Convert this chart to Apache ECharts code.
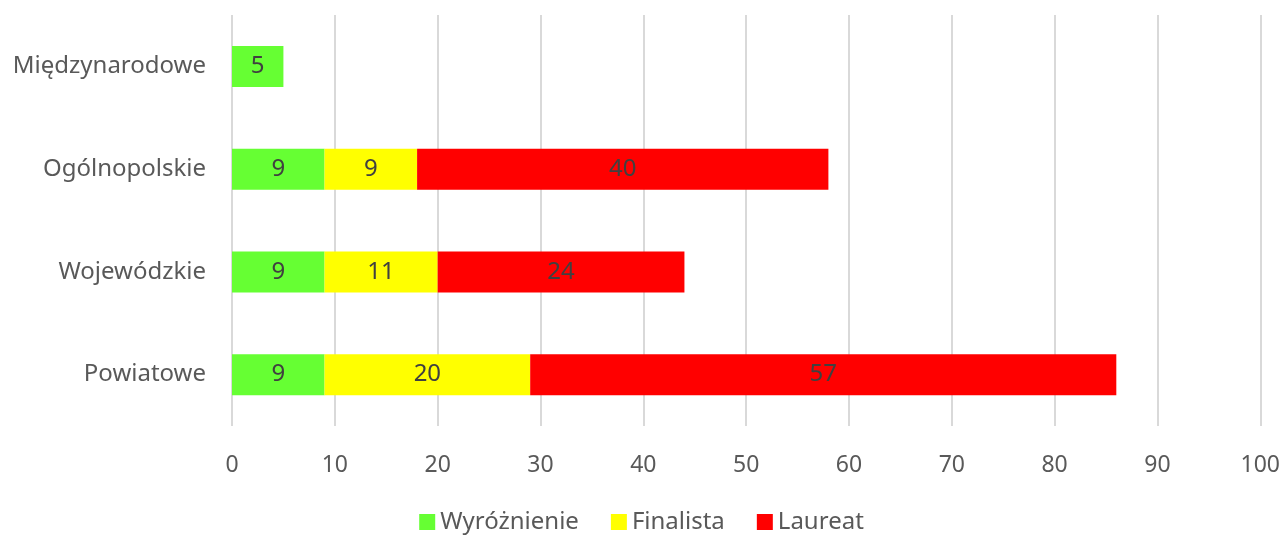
<!DOCTYPE html>
<html><head><meta charset="utf-8">
<script src="https://cdn.jsdelivr.net/npm/echarts@6/dist/echarts.min.js"></script>
<style>html,body{margin:0;padding:0;background:#fff}#c{width:1283px;height:537px}</style>
</head><body><div id="c"></div>
<script>
const categories = ['Powiatowe', 'Wojewódzkie', 'Ogólnopolskie', 'Międzynarodowe'];
const wyroznienie = [9, 9, 9, 5];
const finalista = [20, 11, 9, null];
const laureat = [57, 24, 40, null];
const xTicks = [0, 10, 20, 30, 40, 50, 60, 70, 80, 90, 100];

const FONT = '"Noto Sans", "Open Sans", sans-serif';
const chart = echarts.init(document.getElementById('c'));
const lbl = {show: true, position: 'inside', color: '#404040', fontSize: 24, fontFamily: FONT,
  formatter: p => (p.value == null || p.value === 0) ? '' : p.value};
function mk(name, data, color) {
  return {name, type: 'bar', stack: 't', data, barWidth: 41,
    itemStyle: {color}, label: lbl, emphasis: {disabled: true}};
}
chart.setOption({
  animation: false,
  textStyle: {fontFamily: FONT},
  grid: {left: 232, right: 21, top: 15, bottom: 111, containLabel: false},
  legend: {bottom: -2, left: 'center', itemWidth: 16, itemHeight: 16, itemGap: 32,
    icon: 'rect', textStyle: {color: '#595959', fontSize: 24, fontFamily: FONT},
    data: ['Wyróżnienie', 'Finalista', 'Laureat']},
  xAxis: {type: 'value', min: xTicks[0], max: xTicks[xTicks.length - 1], interval: 10,
    axisLine: {show: false}, axisTick: {show: false},
    splitLine: {lineStyle: {color: '#d9d9d9', width: 2}},
    axisLabel: {color: '#595959', fontSize: 23, margin: 28, fontFamily: FONT}},
  yAxis: {type: 'category', data: categories,
    axisLine: {show: false}, axisTick: {show: false},
    axisLabel: {color: '#595959', fontSize: 24, margin: 26, fontFamily: FONT}},
  series: [
    mk('Wyróżnienie', wyroznienie, '#66ff33'),
    mk('Finalista', finalista, '#ffff00'),
    mk('Laureat', laureat, '#ff0000')
  ]
});
</script></body></html>
